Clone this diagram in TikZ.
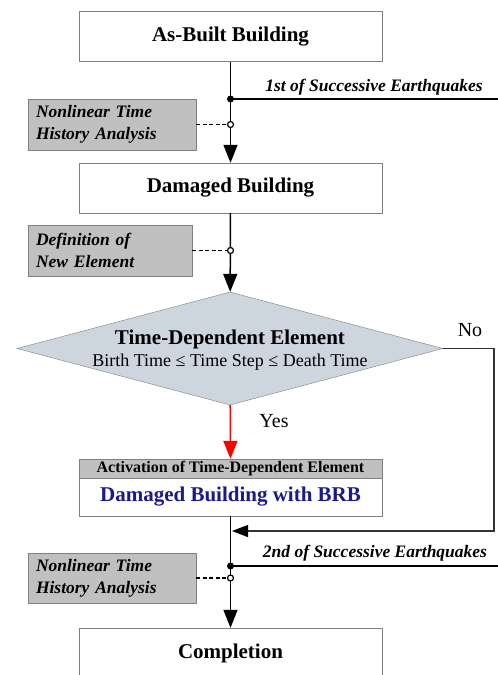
\documentclass[tikz,border=0pt]{standalone}
\usepackage{fontspec}
\setmainfont{Liberation Serif}
\usepackage{tikz}
\usetikzlibrary{arrows.meta,shapes.geometric}
\definecolor{shadegray}{RGB}{192,192,192}
\definecolor{decisionblue}{RGB}{205,213,223}
\definecolor{brbblue}{RGB}{26,26,140}
\newcommand{\bigfont}{\fontsize{21}{25}\selectfont\bfseries}
\newcommand{\notefont}{\fontsize{17.5}{22}\selectfont\bfseries\itshape}

\begin{document}
\begin{tikzpicture}[x=1pt, y=-1pt,
	block/.style={draw=black!50, fill=white, minimum width=303pt, minimum height=50pt, inner sep=0pt, font=\bigfont},
	header/.style={draw=black!50, fill=shadegray, minimum width=303pt, minimum height=19pt, inner sep=0pt, font=\fontsize{16}{19}\selectfont\bfseries},
	note/.style={draw=black!50, fill=shadegray, minimum height=51pt, text width=152pt, inner xsep=8pt, inner ysep=0pt, align=left, font=\notefont},
	decision/.style={draw=black!50, fill=decisionblue, diamond, minimum width=426pt, minimum height=113pt, inner sep=0pt},
	flow/.style={line width=1.5pt, -{Triangle[width=14pt,length=18pt]}},
	noflow/.style={line width=1.3pt, draw=black!80, -{Triangle[width=12pt,length=16pt,color=black]}},
	quake/.style={line width=1.5pt},
	link/.style={line width=1.8pt, dash pattern=on 4pt off 2.5pt},
	quaketext/.style={font=\notefont},
	answer/.style={font=\fontsize{20}{24}\selectfont}
]
\useasboundingbox (0,0) rectangle (498,675);

\node[block] (asbuilt) at (230.5,36.5) {As-Built Building};
\node[block] (damaged) at (230.5,188) {Damaged Building};
\node[decision] (test) at (230,348.5) {};
\node[align=center, inner sep=0pt] (testtext) at (230,350) {{\bigfont Time-Dependent Element}\\[4pt]{\fontsize{18}{21}\selectfont Birth Time ≤ Time Step ≤ Death Time}};
\node[header] (acthead) at (230.5,468.5) {Activation of Time-Dependent Element};
\node[block, minimum height=38pt, text=brbblue] (brb) at (230.5,497) {Damaged Building with BRB};
\node[block] (complete) at (230.5,653) {Completion};

\node[note] (nlth1) at (112,124.5) {Nonlinear Time\\History Analysis};
\node[note, text width=148pt] (newelem) at (110,250.5) {Definition of\\New Element};
\node[note, minimum height=50pt] (nlth2) at (112,578) {Nonlinear Time\\History Analysis};

\node[quaketext] (eq1label) at (374,87) {1st of Successive Earthquakes};
\node[quaketext] (eq2label) at (375,553) {2nd of Successive Earthquakes};
\node[answer] (yes) at (274,421) {Yes};
\node[answer] (no) at (470,330) {No};

\coordinate (eq1) at (230.5,99);
\coordinate (eq1end) at (498,99);
\coordinate (eq2) at (230.5,566);
\coordinate (eq2end) at (498,566);
\coordinate (tap1) at (nlth1 -| asbuilt);
\coordinate (tap2) at (newelem -| asbuilt);
\coordinate (tap3) at (nlth2 -| asbuilt);
\coordinate (noturn) at (494,531);
\coordinate (nojoin) at (232,531);

\draw[flow] (asbuilt) -- (damaged);
\draw[flow] (damaged) -- (test);
\draw[flow, red] (test) -- (acthead);
\draw[flow] (brb) -- (complete);
\draw[noflow] (test.east) -| (noturn) -- (nojoin);

\draw[quake] (eq1) -- (eq1end);
\draw[quake] (eq2) -- (eq2end);
\draw[link] (nlth1) -- (tap1);
\draw[link] (newelem) -- (tap2);
\draw[link] (nlth2) -- (tap3);

\fill (eq1) circle (3.5pt);
\fill (eq2) circle (3.5pt);
\foreach \t in {tap1,tap2,tap3}
	\draw[line width=1.2pt, fill=white] (\t) circle (3pt);
\end{tikzpicture}
\end{document}
